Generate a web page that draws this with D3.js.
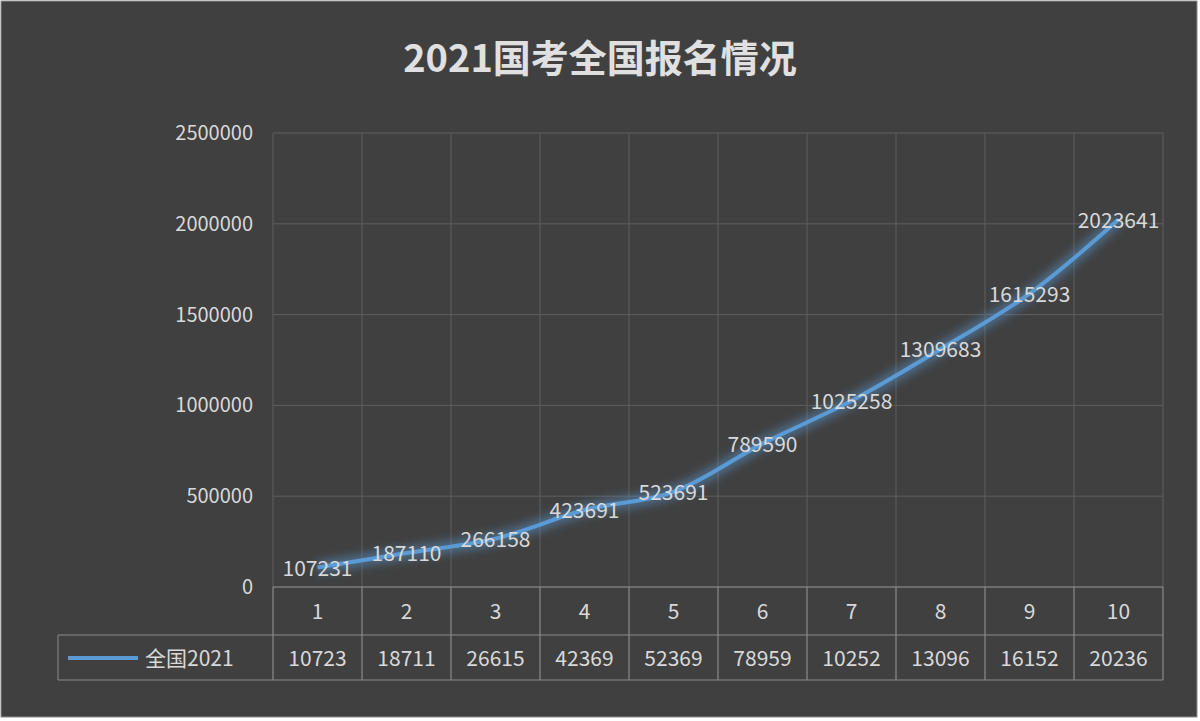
<!DOCTYPE html>
<html><head><meta charset="utf-8">
<script src="https://cdn.jsdelivr.net/npm/d3@7"></script>
<style>body{margin:0;background:#fff;}text{font-family:"Noto Sans CJK SC","Noto Sans",sans-serif;}</style>
</head><body>
<svg id="chart" width="1200" height="721"></svg>
<script>
const categories = ["1","2","3","4","5","6","7","8","9","10"];
const values = [107231,187110,266158,423691,523691,789590,1025258,1309683,1615293,2023641];
const tableLabels = ["10723","18711","26615","42369","52369","78959","10252","13096","16152","20236"];
const yTicks = [0,500000,1000000,1500000,2000000,2500000];
const seriesName = "全国2021";

const svg = d3.select("#chart");
svg.append("rect").attr("x",1).attr("y",1).attr("width",1196).attr("height",716)
  .attr("fill","#404040").attr("stroke","#8c8c8c");

const plotL = 273, plotR = 1163, plotT = 133, plotB = 587;
const x = d3.scaleBand().domain(categories).range([plotL,plotR]);
const y = d3.scaleLinear().domain([0,2500000]).range([plotB,plotT]);
const grid = "#5e5e5e", txt = "#d9d9d9";

svg.append("text").attr("x",600).attr("y",72).attr("text-anchor","middle")
  .attr("font-size",38).attr("font-weight","bold").attr("fill","#e0e0e0").text("2021国考全国报名情况");

yTicks.forEach(t=>{
  svg.append("line").attr("x1",plotL).attr("x2",plotR).attr("y1",y(t)).attr("y2",y(t)).attr("stroke",grid);
  svg.append("text").attr("x",253).attr("y",y(t)+7).attr("text-anchor","end")
    .attr("font-size",20).attr("fill",txt).text(t);
});
categories.forEach(c=>{
  const xl = x(c);
  svg.append("line").attr("x1",xl).attr("x2",xl).attr("y1",plotT).attr("y2",680).attr("stroke",grid);
});
svg.append("line").attr("x1",plotR).attr("x2",plotR).attr("y1",plotT).attr("y2",680).attr("stroke",grid);
// table
const tb = "#8a8a8a";
svg.append("line").attr("x1",plotL).attr("x2",plotR).attr("y1",plotB).attr("y2",plotB).attr("stroke",tb);
svg.append("line").attr("x1",58).attr("x2",plotR).attr("y1",635).attr("y2",635).attr("stroke",tb);
svg.append("line").attr("x1",58).attr("x2",plotR).attr("y1",680).attr("y2",680).attr("stroke",tb);
svg.append("line").attr("x1",58).attr("x2",58).attr("y1",635).attr("y2",680).attr("stroke",tb);
[...categories.map(c=>x(c)), plotR].forEach(xv=>{
  svg.append("line").attr("x1",xv).attr("x2",xv).attr("y1",plotB).attr("y2",680).attr("stroke",tb);
});
categories.forEach((c,i)=>{
  const cx = x(c)+x.bandwidth()/2;
  svg.append("text").attr("x",cx).attr("y",619).attr("text-anchor","middle")
    .attr("font-size",21).attr("fill",txt).text(c);
  svg.append("text").attr("x",cx).attr("y",666).attr("text-anchor","middle")
    .attr("font-size",21).attr("fill",txt).text(tableLabels[i]);
});
svg.append("line").attr("x1",68).attr("x2",138).attr("y1",658).attr("y2",658)
  .attr("stroke","#5b9bd5").attr("stroke-width",4);
svg.append("text").attr("x",145).attr("y",666).attr("font-size",21).attr("fill",txt).text(seriesName);

// line with glow
const defs = svg.append("defs");
defs.append("filter").attr("id","glow").attr("x","-10%").attr("y","-10%").attr("width","120%").attr("height","120%")
  .append("feGaussianBlur").attr("stdDeviation",5);
const line = d3.line().x((d,i)=>x(categories[i])+x.bandwidth()/2).y(d=>y(d)).curve(d3.curveCatmullRom);
svg.append("path").datum(values).attr("d",line).attr("fill","none")
  .attr("stroke","#5b9bd5").attr("stroke-width",12).attr("opacity",0.5).attr("filter","url(#glow)");
svg.append("path").datum(values).attr("d",line).attr("fill","none")
  .attr("stroke","#5b9bd5").attr("stroke-width",4);
values.forEach((v,i)=>{
  svg.append("text").attr("x",x(categories[i])+x.bandwidth()/2).attr("y",y(v)+8)
    .attr("text-anchor","middle").attr("font-size",21).attr("fill",txt).text(v);
});
</script>
</body></html>
